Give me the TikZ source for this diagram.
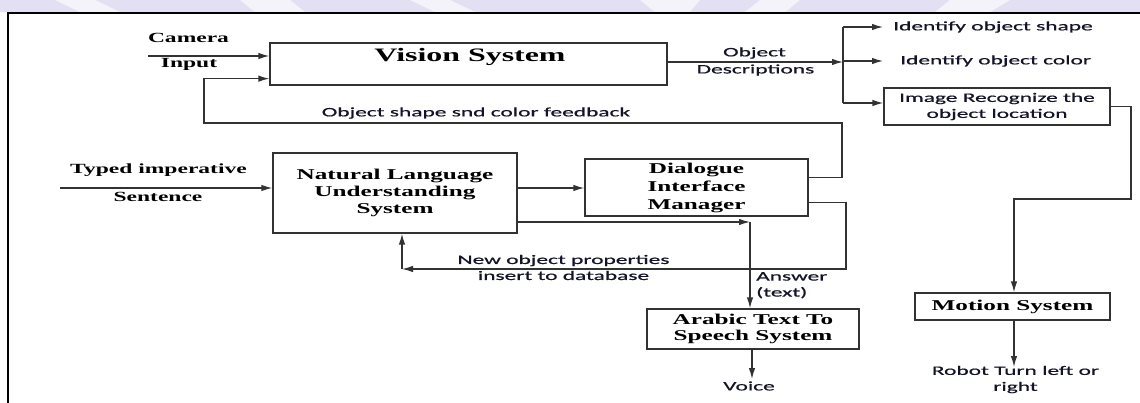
\documentclass[tikz,border=0pt]{standalone}
\usepackage{fontspec}
\usetikzlibrary{arrows.meta,calc}
\newfontfamily\serifb{Liberation Serif}[FakeStretch=1.68]
\newfontfamily\sansf{Carlito}[FakeStretch=1.8,FakeBold=0.6]
\definecolor{linec}{RGB}{50,50,50}
\definecolor{txtc}{RGB}{20,20,40}
\definecolor{lav}{RGB}{226,224,242}
\definecolor{lavw}{RGB}{244,243,250}
\tikzset{
  boxn/.style={draw=linec, line width=1.3pt, inner sep=0pt, align=center, text=black},
  sb/.style={font={\serifb\bfseries\fontsize{15}{17}\selectfont}, text=black, inner sep=0pt, align=center},
  ss/.style={font={\sansf\fontsize{13}{16}\selectfont}, text=txtc, inner sep=0pt, align=center},
  arr/.style={draw=linec, line width=1.3pt, -{Latex[length=11pt,width=6.5pt]}},
  ln/.style={draw=linec, line width=1.3pt},
}
\begin{document}
\begin{tikzpicture}[x=1pt,y=-1pt]
\useasboundingbox (0,0) rectangle (1140,403);
\fill[white] (0,0) rectangle (1140,403);
\fill[lav] (0,0) rectangle (1140,12);
\fill[lavw] (55,0) -- (95,0) -- (120,12) -- (80,12) -- cycle;
\fill[lavw] (240,0) -- (290,0) -- (305,12) -- (255,12) -- cycle;
\fill[lavw] (410,0) -- (450,0) -- (475,12) -- (435,12) -- cycle;
\fill[lavw] (640,0) -- (700,0) -- (690,12) -- (655,12) -- cycle;
\fill[lavw] (760,0) -- (800,0) -- (785,12) -- (745,12) -- cycle;
\fill[lavw] (950,0) -- (1010,0) -- (990,12) -- (935,12) -- cycle;
\draw[line width=2.6pt, black] (8,403) -- (8,13) -- (1140,13);

% boxes
\node[boxn, minimum width=397pt, minimum height=42pt] (vision) at (468.5,64) {};
\node[sb, font={\serifb\bfseries\fontsize{19}{21}\selectfont}] (visiont) at (470,57) {Vision System};
\node[boxn, sb, draw=linec, minimum width=244pt, minimum height=80pt] (nlu) at (395,193) {Natural Language\\Understanding\\System};
\node[boxn, sb, draw=linec, minimum width=223pt, minimum height=57pt, font={\serifb\bfseries\fontsize{15}{18}\selectfont}] (dim) at (696.5,187.5) {Dialogue\\Interface\\Manager};
\node[boxn, ss, draw=linec, minimum width=226pt, minimum height=37pt] (img) at (997,106.5) {Image Recognize the\\object location};
\node[boxn, sb, draw=linec, minimum width=195pt, minimum height=27pt] (motion) at (1012.5,306.5) {Motion System};
\node[boxn, sb, draw=linec, minimum width=212pt, minimum height=40pt, font={\serifb\bfseries\fontsize{15}{16}\selectfont}] (arabic) at (753,329) {Arabic Text To\\Speech System};

% camera input
\coordinate (cam) at (148,56);
\draw[arr] (cam) -- (cam -| vision.west);
\node[sb, font={\serifb\bfseries\fontsize{14}{16}\selectfont}] (camt) at (188.5,38) {Camera};
\node[sb, font={\serifb\bfseries\fontsize{14}{16}\selectfont}] (inpt) at (189,64) {Input};

% feedback
\coordinate (fbR) at (842,123);
\coordinate (fbL) at (204,123);
\draw[arr] ([yshift=-19pt]dim.north east) -| (fbR) -- (fbL) |- ([yshift=7pt]vision.south west);
\node[ss] (fbt) at (476,113) {Object shape snd color feedback};

% object descriptions
\coordinate (br) at (843,62);
\coordinate (brT) at (843,27);
\coordinate (brB) at (843,103);
\draw[arr] (br -| vision.east) -- (br);
\node[ss] (objt) at (754.5,53) {Object};
\node[ss] (dest) at (755.5,70) {Descriptions};
\draw[ln] (brT) -- (brB);
\node[ss, anchor=west] (idshape) at (893,27) {Identify object shape};
\node[ss, anchor=west] (idcolor) at (900,61) {Identify object color};
\draw[arr] (brT) -- ([xshift=-10pt]idshape.west);
\draw[arr] (brT |- idcolor.west) -- ([xshift=-17pt]idcolor.west);
\draw[arr] (brB) -- (brB -| img.west);

% image -> motion
\coordinate (m1) at (1131,199);
\draw[arr] (img.east) -| (m1) -| ([xshift=1.5pt]motion.north);
\node[ss] (robot) at (1015.5,379.5) {Robot Turn left or\\right};
\draw[arr] ([xshift=1.5pt]motion.south) -- ([xshift=1.5pt]motion.south |- 0,367);

% typed
\coordinate (typ) at (60,188);
\draw[arr] (typ) -- (typ -| nlu.west);
\node[sb, font={\serifb\bfseries\fontsize{14}{16}\selectfont}] (typt) at (158.5,170) {Typed imperative};
\node[sb, font={\serifb\bfseries\fontsize{14}{16}\selectfont}] (sent) at (158,197) {Sentence};

% nlu -> dim
\draw[arr] (nlu.east |- 0,188) -- (dim.west |- 0,188);

% nlu -> answer -> arabic
\coordinate (ans) at (750,222);
\draw[arr] (nlu.east |- ans) -- (ans);
\draw[arr] (ans) -- (ans |- arabic.north);
\node[ss, align=left, anchor=north west] (anst) at (756,272) {Answer\\(text)};

% dim -> nlu (new object properties)
\coordinate (np1) at (846,269);
\coordinate (np2) at (402,269);
\draw[arr] ([yshift=14pt]dim.south east) -| (np1) -- (np2);
\draw[arr] (np2) -- (np2 |- nlu.south);
\node[ss] (npt) at (563.5,267.5) {New object properties\\insert to database};

% arabic -> voice
\node[ss] (voice) at (749,386) {Voice};
\draw[arr] ([xshift=-1pt]arabic.south) -- ([xshift=-1pt]arabic.south |- 0,379);
\end{tikzpicture}
\end{document}
